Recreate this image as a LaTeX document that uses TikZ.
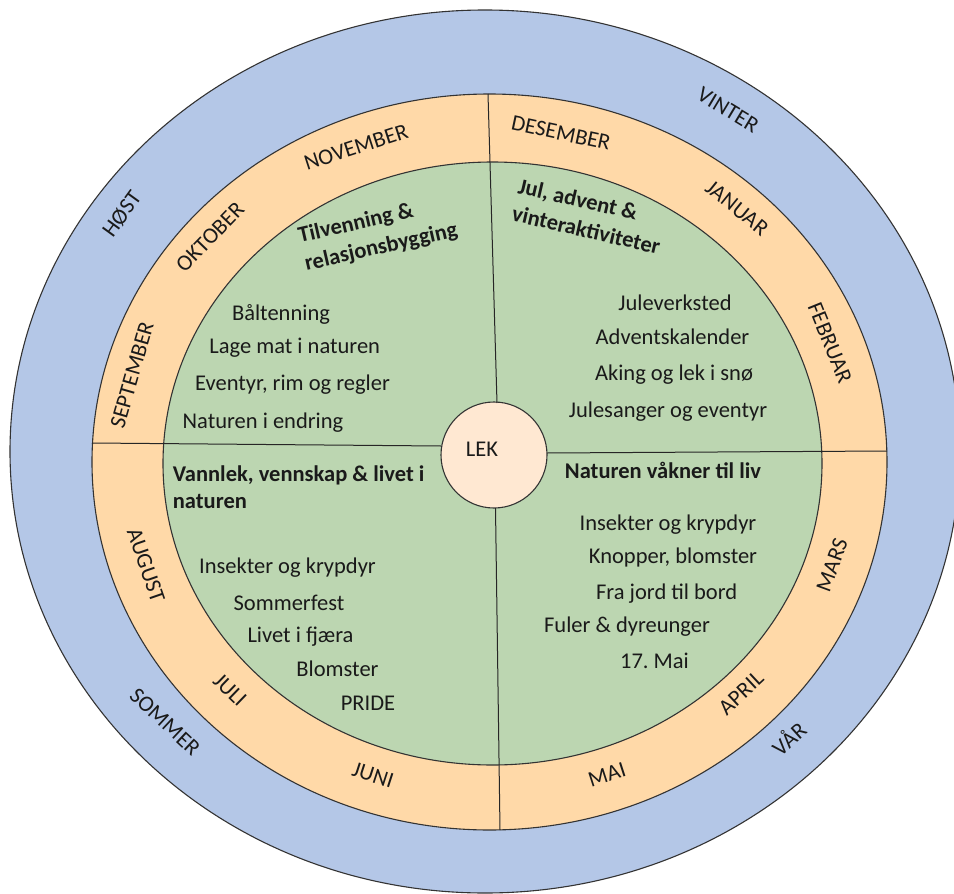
\documentclass[tikz,border=0pt]{standalone}
\usepackage{fontspec}
\setmainfont{Carlito}
\definecolor{ringblue}{HTML}{B4C7E7}
\definecolor{ringorange}{HTML}{FFD9A8}
\definecolor{ringgreen}{HTML}{BCD6B1}
\definecolor{lekfill}{HTML}{FFE8D2}
\definecolor{inkc}{HTML}{1A1A1A}
\begin{document}
\frenchspacing
\begin{tikzpicture}[x=1pt,y=-1pt,
  txt/.style={font=\fontsize{22.5}{27}\selectfont, inner sep=0pt, text=inkc},
  itm/.style={txt, anchor=base},
  hd/.style={txt, font=\fontsize{22.5}{27}\selectfont\bfseries, anchor=base west},
  lbl/.style={txt, anchor=center},
  ringline/.style={draw=black!80, line width=1.1pt},
  divider/.style={draw=black!85, line width=1pt}]
\useasboundingbox (0,0) rectangle (954,894);
\begin{scope}
\clip (0,0) rectangle (954,894);
\filldraw[ringline, fill=ringblue] (485,451.5) ellipse [x radius=475, y radius=441.5];
\end{scope}
\filldraw[ringline, fill=ringorange] (489.5,462) ellipse [x radius=397.5, y radius=368];
\filldraw[ringline, fill=ringgreen] (492.5,463.5) ellipse [x radius=329.5, y radius=301.5];
\node[circle, minimum size=106pt, inner sep=0pt, draw=black!80, line width=1.1pt, fill=lekfill] (lek) at (494,455) {};
\node[itm] (lektxt) at (482,456) {LEK};

% dividers
\coordinate (dtop) at (488,94);
\coordinate (dtopin) at (497,403);
\coordinate (dleft) at (92,443);
\coordinate (dleftin) at (441,446);
\coordinate (dright) at (887,451);
\coordinate (drightin) at (547,453);
\coordinate (dbot) at (500,830);
\coordinate (dbotin) at (495.5,508);
\draw[divider] (dtop) -- (dtopin);
\draw[divider] (dleft) -- (dleftin);
\draw[divider] (drightin) -- (dright);
\draw[divider] (dbotin) -- (dbot);

% seasons
\node[lbl, rotate=-31] (vinter) at (728,110) {VINTER};
\node[lbl, rotate=54] (host) at (122,214) {HØST};
\node[lbl, rotate=-43] (sommer) at (165,722) {SOMMER};
\node[lbl, rotate=42] (var) at (788,738) {VÅR};

% months
\node[lbl, rotate=18] (nov) at (356,147) {NOVEMBER};
\node[lbl, rotate=46] (okt) at (210,237) {OKTOBER};
\node[lbl, rotate=74] (sep) at (132,375) {SEPTEMBER};
\node[lbl, rotate=-12] (des) at (561,133) {DESEMBER};
\node[lbl, rotate=-39] (jan) at (737,208) {JANUAR};
\node[lbl, rotate=-68] (feb) at (830,343) {FEBRUAR};
\node[lbl, rotate=-71] (aug) at (146,565) {AUGUST};
\node[lbl, rotate=-44] (jul) at (230,690) {JULI};
\node[lbl, rotate=-18] (jun) at (373,775) {JUNI};
\node[lbl, rotate=18] (mai) at (607,775) {MAI};
\node[lbl, rotate=43] (apr) at (741,693) {APRIL};
\node[lbl, rotate=70] (mar) at (832,565) {MARS};

% autumn quadrant
\node[hd, rotate=13] (h1a) at (300,243) {Tilvenning \&};
\node[hd, rotate=13] (h1b) at (306.5,271) {relasjonsbygging};
\node[itm] (a1) at (281,320) {Båltenning};
\node[itm] (a2) at (294.7,353.3) {Lage mat i naturen};
\node[itm] (a3) at (292.5,390.7) {Eventyr, rim og regler};
\node[itm] (a4) at (263,428.3) {Naturen i endring};

% winter quadrant
\node[hd, rotate=-13] (h2a) at (517,193) {Jul, advent \&};
\node[hd, rotate=-13] (h2b) at (510.7,220.5) {vinteraktiviteter};
\node[itm] (w1) at (675,310.7) {Juleverksted};
\node[itm] (w2) at (672.5,344.3) {Adventskalender};
\node[itm] (w3) at (674,380) {Aking og lek i snø};
\node[itm] (w4) at (668,417.3) {Julesanger og eventyr};

% summer quadrant
\node[hd] (h3a) at (172.7,481.7) {Vannlek, vennskap \& livet i};
\node[hd] (h3b) at (172.7,508.3) {naturen};
\node[itm] (s1) at (287.5,573.3) {Insekter og krypdyr};
\node[itm] (s2) at (289,610.7) {Sommerfest};
\node[itm] (s3) at (300.5,642.7) {Livet i fjæra};
\node[itm] (s4) at (337.5,676) {Blomster};
\node[itm] (s5) at (368,710.7) {PRIDE};

% spring quadrant
\node[hd, anchor=base] (h4) at (663,478.3) {Naturen våkner til liv};
\node[itm] (p1) at (668,530.7) {Insekter og krypdyr};
\node[itm] (p2) at (673,563.3) {Knopper, blomster};
\node[itm] (p3) at (666.7,599.3) {Fra jord til bord};
\node[itm] (p4) at (627,632.7) {Fuler \& dyreunger};
\node[itm] (p5) at (654.5,668.3) {17. Mai};
\end{tikzpicture}
\end{document}
